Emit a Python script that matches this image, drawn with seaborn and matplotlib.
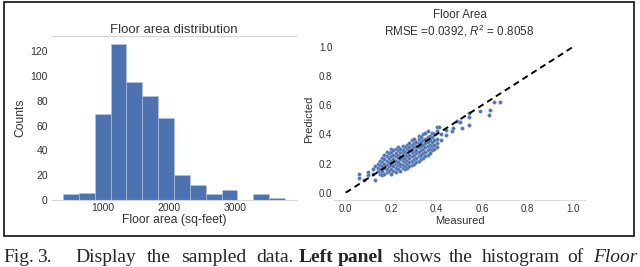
import numpy as np
import pandas as pd
import seaborn as sns
import matplotlib.pyplot as plt
from matplotlib.patches import Rectangle

# histogram of sampled floor areas (bin edges in sq-feet, counts per bin)
bin_edges = [394, 634, 874, 1114, 1354, 1594, 1834, 2074, 2314, 2554,
             2794, 3034, 3274, 3514, 3754]
bin_counts = [5, 6, 69, 126, 95, 84, 66, 20, 12, 5, 8, 0, 5, 2]

# measured vs predicted (normalised floor area)
measured = [
    0.06, 0.06, 0.08, 0.10, 0.10, 0.12, 0.12, 0.13, 0.13,
    0.14, 0.14, 0.14, 0.15, 0.15, 0.15, 0.15,
    0.16, 0.16, 0.16, 0.16, 0.16, 0.17, 0.17, 0.17, 0.17, 0.17,
    0.18, 0.18, 0.18, 0.18, 0.18, 0.18, 0.19, 0.19, 0.19, 0.19, 0.19,
    0.20, 0.20, 0.20, 0.20, 0.20, 0.20, 0.20,
    0.21, 0.21, 0.21, 0.21, 0.21, 0.21,
    0.22, 0.22, 0.22, 0.22, 0.22, 0.22, 0.22,
    0.23, 0.23, 0.23, 0.23, 0.23, 0.23, 0.23,
    0.24, 0.24, 0.24, 0.24, 0.24, 0.24, 0.24,
    0.25, 0.25, 0.25, 0.25, 0.25, 0.25, 0.25,
    0.26, 0.26, 0.26, 0.26, 0.26, 0.26, 0.26,
    0.27, 0.27, 0.27, 0.27, 0.27, 0.27, 0.27,
    0.28, 0.28, 0.28, 0.28, 0.28, 0.28, 0.28,
    0.29, 0.29, 0.29, 0.29, 0.29, 0.29, 0.29,
    0.30, 0.30, 0.30, 0.30, 0.30, 0.30, 0.30,
    0.31, 0.31, 0.31, 0.31, 0.31, 0.31,
    0.32, 0.32, 0.32, 0.32, 0.32, 0.32, 0.32,
    0.33, 0.33, 0.33, 0.33, 0.33, 0.33,
    0.34, 0.34, 0.34, 0.34, 0.34, 0.34,
    0.35, 0.35, 0.35, 0.35, 0.35, 0.35,
    0.36, 0.36, 0.36, 0.36, 0.36, 0.36,
    0.37, 0.37, 0.37, 0.37, 0.37,
    0.38, 0.38, 0.38, 0.38, 0.38,
    0.39, 0.39, 0.39, 0.39,
    0.40, 0.40, 0.40, 0.40, 0.40,
    0.41, 0.42, 0.42, 0.44, 0.44, 0.466, 0.47,
    0.49, 0.50, 0.51, 0.54, 0.54, 0.54, 0.59, 0.63, 0.634, 0.653, 0.678,
]
predicted = [
    0.13, 0.10, 0.09, 0.14, 0.12, 0.16, 0.13, 0.085, 0.18,
    0.15, 0.20, 0.17, 0.13, 0.19, 0.22, 0.16,
    0.12, 0.15, 0.18, 0.21, 0.24, 0.13, 0.17, 0.20, 0.23, 0.26,
    0.14, 0.16, 0.19, 0.22, 0.25, 0.28, 0.15, 0.18, 0.21, 0.24, 0.27,
    0.13, 0.16, 0.19, 0.22, 0.25, 0.28, 0.30,
    0.15, 0.18, 0.21, 0.23, 0.26, 0.29,
    0.14, 0.17, 0.20, 0.22, 0.25, 0.27, 0.30,
    0.16, 0.19, 0.21, 0.24, 0.26, 0.29, 0.31,
    0.15, 0.18, 0.20, 0.23, 0.25, 0.28, 0.30,
    0.17, 0.19, 0.22, 0.24, 0.27, 0.29, 0.32,
    0.16, 0.18, 0.21, 0.23, 0.26, 0.28, 0.31,
    0.17, 0.20, 0.22, 0.25, 0.27, 0.30, 0.33,
    0.18, 0.21, 0.24, 0.26, 0.29, 0.31, 0.34,
    0.19, 0.22, 0.25, 0.28, 0.30, 0.33, 0.36,
    0.20, 0.23, 0.26, 0.28, 0.31, 0.34, 0.37,
    0.21, 0.24, 0.27, 0.29, 0.32, 0.35,
    0.22, 0.25, 0.28, 0.31, 0.34, 0.37, 0.39,
    0.23, 0.26, 0.29, 0.32, 0.35, 0.38,
    0.24, 0.27, 0.30, 0.33, 0.36, 0.40,
    0.25, 0.28, 0.31, 0.34, 0.37, 0.41,
    0.26, 0.29, 0.32, 0.35, 0.38, 0.42,
    0.27, 0.30, 0.33, 0.36, 0.39,
    0.29, 0.32, 0.35, 0.38, 0.41,
    0.30, 0.33, 0.36, 0.40,
    0.31, 0.34, 0.37, 0.42, 0.45,
    0.452, 0.36, 0.40, 0.395, 0.43, 0.423, 0.44,
    0.494, 0.483, 0.444, 0.516, 0.463, 0.548, 0.56, 0.53, 0.567, 0.623, 0.619,
]
diag = [0.0, 1.0]

rmse_text = r"RMSE =0.0392, $R^2$ = 0.8058"

sns.set_style("white")
plt.rcParams['font.family'] = ['Liberation Sans', 'DejaVu Sans']
plt.rcParams['mathtext.fontset'] = 'custom'
plt.rcParams['mathtext.it'] = 'Liberation Sans:italic'
plt.rcParams['mathtext.rm'] = 'Liberation Sans'

W, H = 640, 267
fig = plt.figure(figsize=(6.4, 2.67), dpi=100)

def frac(x0, y0, x1, y1):
    # pixel box (top-left origin) -> figure fraction rect
    return [x0 / W, 1 - y1 / H, (x1 - x0) / W, (y1 - y0) / H]

blue = "#4C72B0"
spine_c = "#d5d5d5"
txt_c = "#333333"

# left panel: histogram
ax1 = fig.add_axes(frac(52, 36, 296, 200))
centers = [(a + b) / 2 for a, b in zip(bin_edges[:-1], bin_edges[1:])]
hist_df = pd.DataFrame({"area": centers, "count": bin_counts})
sns.histplot(data=hist_df, x="area", weights="count", bins=bin_edges,
             color=blue, alpha=1, edgecolor="#b9c4dc", linewidth=0.4, ax=ax1)
ax1.set_title("Floor area distribution", fontsize=9.5, color=txt_c, pad=2)
ax1.set_xlabel("Floor area (sq-feet)", fontsize=8.7, color=txt_c, labelpad=1)
ax1.set_ylabel("Counts", fontsize=8.7, color=txt_c, labelpad=3)
ax1.set_xticks([1000, 2000, 3000])
ax1.set_yticks([0, 20, 40, 60, 80, 100, 120])
ax1.tick_params(labelsize=7.5, colors=txt_c, length=0)
ax1.tick_params(axis="x", pad=2)
ax1.tick_params(axis="y", pad=3)
for side in ["left", "right"]:
    ax1.spines[side].set_visible(False)
for side in ["top", "bottom"]:
    ax1.spines[side].set_color(spine_c)
    ax1.spines[side].set_linewidth(0.8)

# right panel: measured vs predicted
ax2 = fig.add_axes(frac(334.3, 39.4, 584.7, 200))
sns.scatterplot(x=measured, y=predicted, color=blue, s=7, marker="o",
                edgecolor="#9fb1d6", linewidth=0.3, ax=ax2, zorder=2)
sns.lineplot(x=diag, y=diag, color="black", linestyle=(0, (3.2, 2.2)),
             linewidth=1.4, ax=ax2, zorder=3)
ax2.set_xlim(-0.05, 1.05)
ax2.set_ylim(-0.05, 1.05)
ax2.set_xticks([0.0, 0.2, 0.4, 0.6, 0.8, 1.0])
ax2.set_yticks([0.0, 0.2, 0.4, 0.6, 0.8, 1.0])
ax2.set_title("Floor Area\n" + rmse_text, fontsize=8.4, color=txt_c, pad=3,
              linespacing=1.15)
ax2.set_xlabel("Measured", fontsize=8, color=txt_c, labelpad=1)
ax2.set_ylabel("Predicted", fontsize=8, color=txt_c, labelpad=3)
ax2.tick_params(labelsize=7, colors=txt_c, length=0)
ax2.tick_params(axis="x", pad=3)
ax2.tick_params(axis="y", pad=1.5)
for side in ["left", "right", "top"]:
    ax2.spines[side].set_visible(False)
ax2.spines["bottom"].set_color(spine_c)
ax2.spines["bottom"].set_linewidth(0.6)

# outer frame around both panels
fig.patches.append(Rectangle((4 / W, 1 - 236 / H), 630 / W, 234 / H,
                             transform=fig.transFigure, fill=False,
                             edgecolor="#222222", linewidth=1.3))

# caption (justified line, cut at the bottom like the source)
cap_y = 1 - 262 / H
serif = ['Liberation Serif', 'DejaVu Serif']
cap_size = 14
renderer = fig.canvas.get_renderer()

def justify(words, x0, x1, **kw):
    # spread the words of one caption segment over the pixel span x0..x1
    arts = [fig.text(0, cap_y, w, fontsize=cap_size, family=serif, **kw)
            for w in words]
    widths = [a.get_window_extent(renderer).width for a in arts]
    gap = max((x1 - x0 - sum(widths)) / max(len(words) - 1, 1), 3)
    x = x0
    for a, w in zip(arts, widths):
        a.set_x(x / W)
        x += w + gap

justify(["Fig.", "3."], 3, 48)
justify(["Display", "the", "sampled", "data."], 75, 294)
justify(["Left", "panel"], 299, 383, fontweight="bold")
justify(["shows", "the", "histogram", "of"], 392, 584)
justify(["Floor"], 593, 640, style="italic")

fig.savefig("out.png", dpi=100)
